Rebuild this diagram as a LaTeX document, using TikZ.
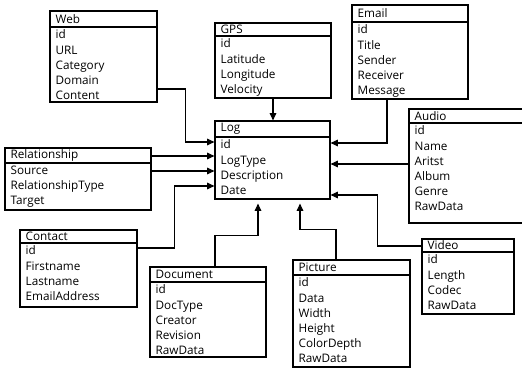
\documentclass[tikz,border=0pt]{standalone}
\usepackage{fontspec}
\setmainfont{Open Sans}
\usetikzlibrary{arrows.meta,fit,calc}

\tikzset{
  tbl/.style={draw,line width=0.9pt,inner sep=0pt},
  tbltitle/.style={anchor=west,inner xsep=4.5pt,inner ysep=2pt,font=\fontsize{8.8}{11.5}\selectfont},
  tblrows/.style={anchor=north west,align=left,inner xsep=4.5pt,inner ysep=2pt,font=\fontsize{8.8}{11.4}\selectfont},
  link/.style={line width=0.8pt,-{Triangle[length=5.5pt,width=5pt]}},
}

% name, x1, y1, x2, y2, header line, title, rows
\newcommand{\dbtable}[8]{%
  \node[tbl,fit={(#2,#3) (#4,#5)}] (#1) {};
  \draw[line width=1.4pt] (#1.west |- 0,#6) -- (#1.east |- 0,#6);
  \node[tbltitle] (#1-title) at ($(#1.north west)!0.5!(#1.west |- 0,#6)$) {#7};
  \node[tblrows] (#1-rows) at (#1.west |- 0,#6) {#8};
}

\begin{document}
\begin{tikzpicture}[x=0.75pt,y=0.75pt,yscale=-1,xscale=1]
\useasboundingbox (0,0) rectangle (522,370);

\dbtable{web}{50}{11}{157}{102}{27}{Web}{id\\URL\\Category\\Domain\\Content}

\dbtable{gps}{215}{23}{331}{98}{36}{GPS}{id\\Latitude\\Longitude\\Velocity}

\dbtable{email}{352}{5}{468}{99}{22}{Email}{id\\Title\\Sender\\Receiver\\Message}

\dbtable{log}{215}{121}{330}{199}{137}{Log}{id\\LogType\\Description\\Date}

\dbtable{rel}{5}{148}{151}{210}{163}{Relationship}{Source\\RelationshipType\\Target}

\dbtable{audio}{409}{109}{526}{223}{123}{Audio}{id\\Name\\Aritst\\Album\\Genre\\RawData}

\dbtable{contact}{20}{230}{137}{307}{243}{Contact}{id\\Firstname\\Lastname\\EmailAddress}

\dbtable{doc}{150}{267}{266}{357}{282}{Document}{id\\DocType\\Creator\\Revision\\RawData}

\dbtable{pic}{293}{260}{410}{367}{275}{Picture}{id\\Data\\Width\\Height\\ColorDepth\\RawData}

\dbtable{video}{422}{239}{514}{314}{252}{Video}{id\\Length\\Codec\\RawData}

\draw[link] (web.east |- 0,89) -- ++(28,0) |- (log.west |- 0,142);

\draw[link] (gps.south) -- (gps.south |- log.north);

\draw[link] (email.south -| 387,0) |- (log.east |- 0,143);

\draw[link] (rel.east |- 0,156) -- (log.west |- 0,156);

\draw[link] (rel.east |- 0,171) -- (log.west |- 0,171);

\draw[link] (contact.east |- 0,248) -- ++(37,0) |- (log.west |- 0,186);

\draw[link] (audio.west |- 0,164) -- (log.east |- 0,164);

\draw[link] (video.west |- 0,246) -- ++(-44,0) |- (log.east |- 0,195);

\draw[link,shorten >=3pt] (doc.north -| 215,0) -- ++(0,-31) -| (log.south -| 258,0);

\draw[link,shorten >=3pt] (pic.north -| 336,0) -- ++(0,-30) -| (log.south -| 300,0);

\end{tikzpicture}
\end{document}
